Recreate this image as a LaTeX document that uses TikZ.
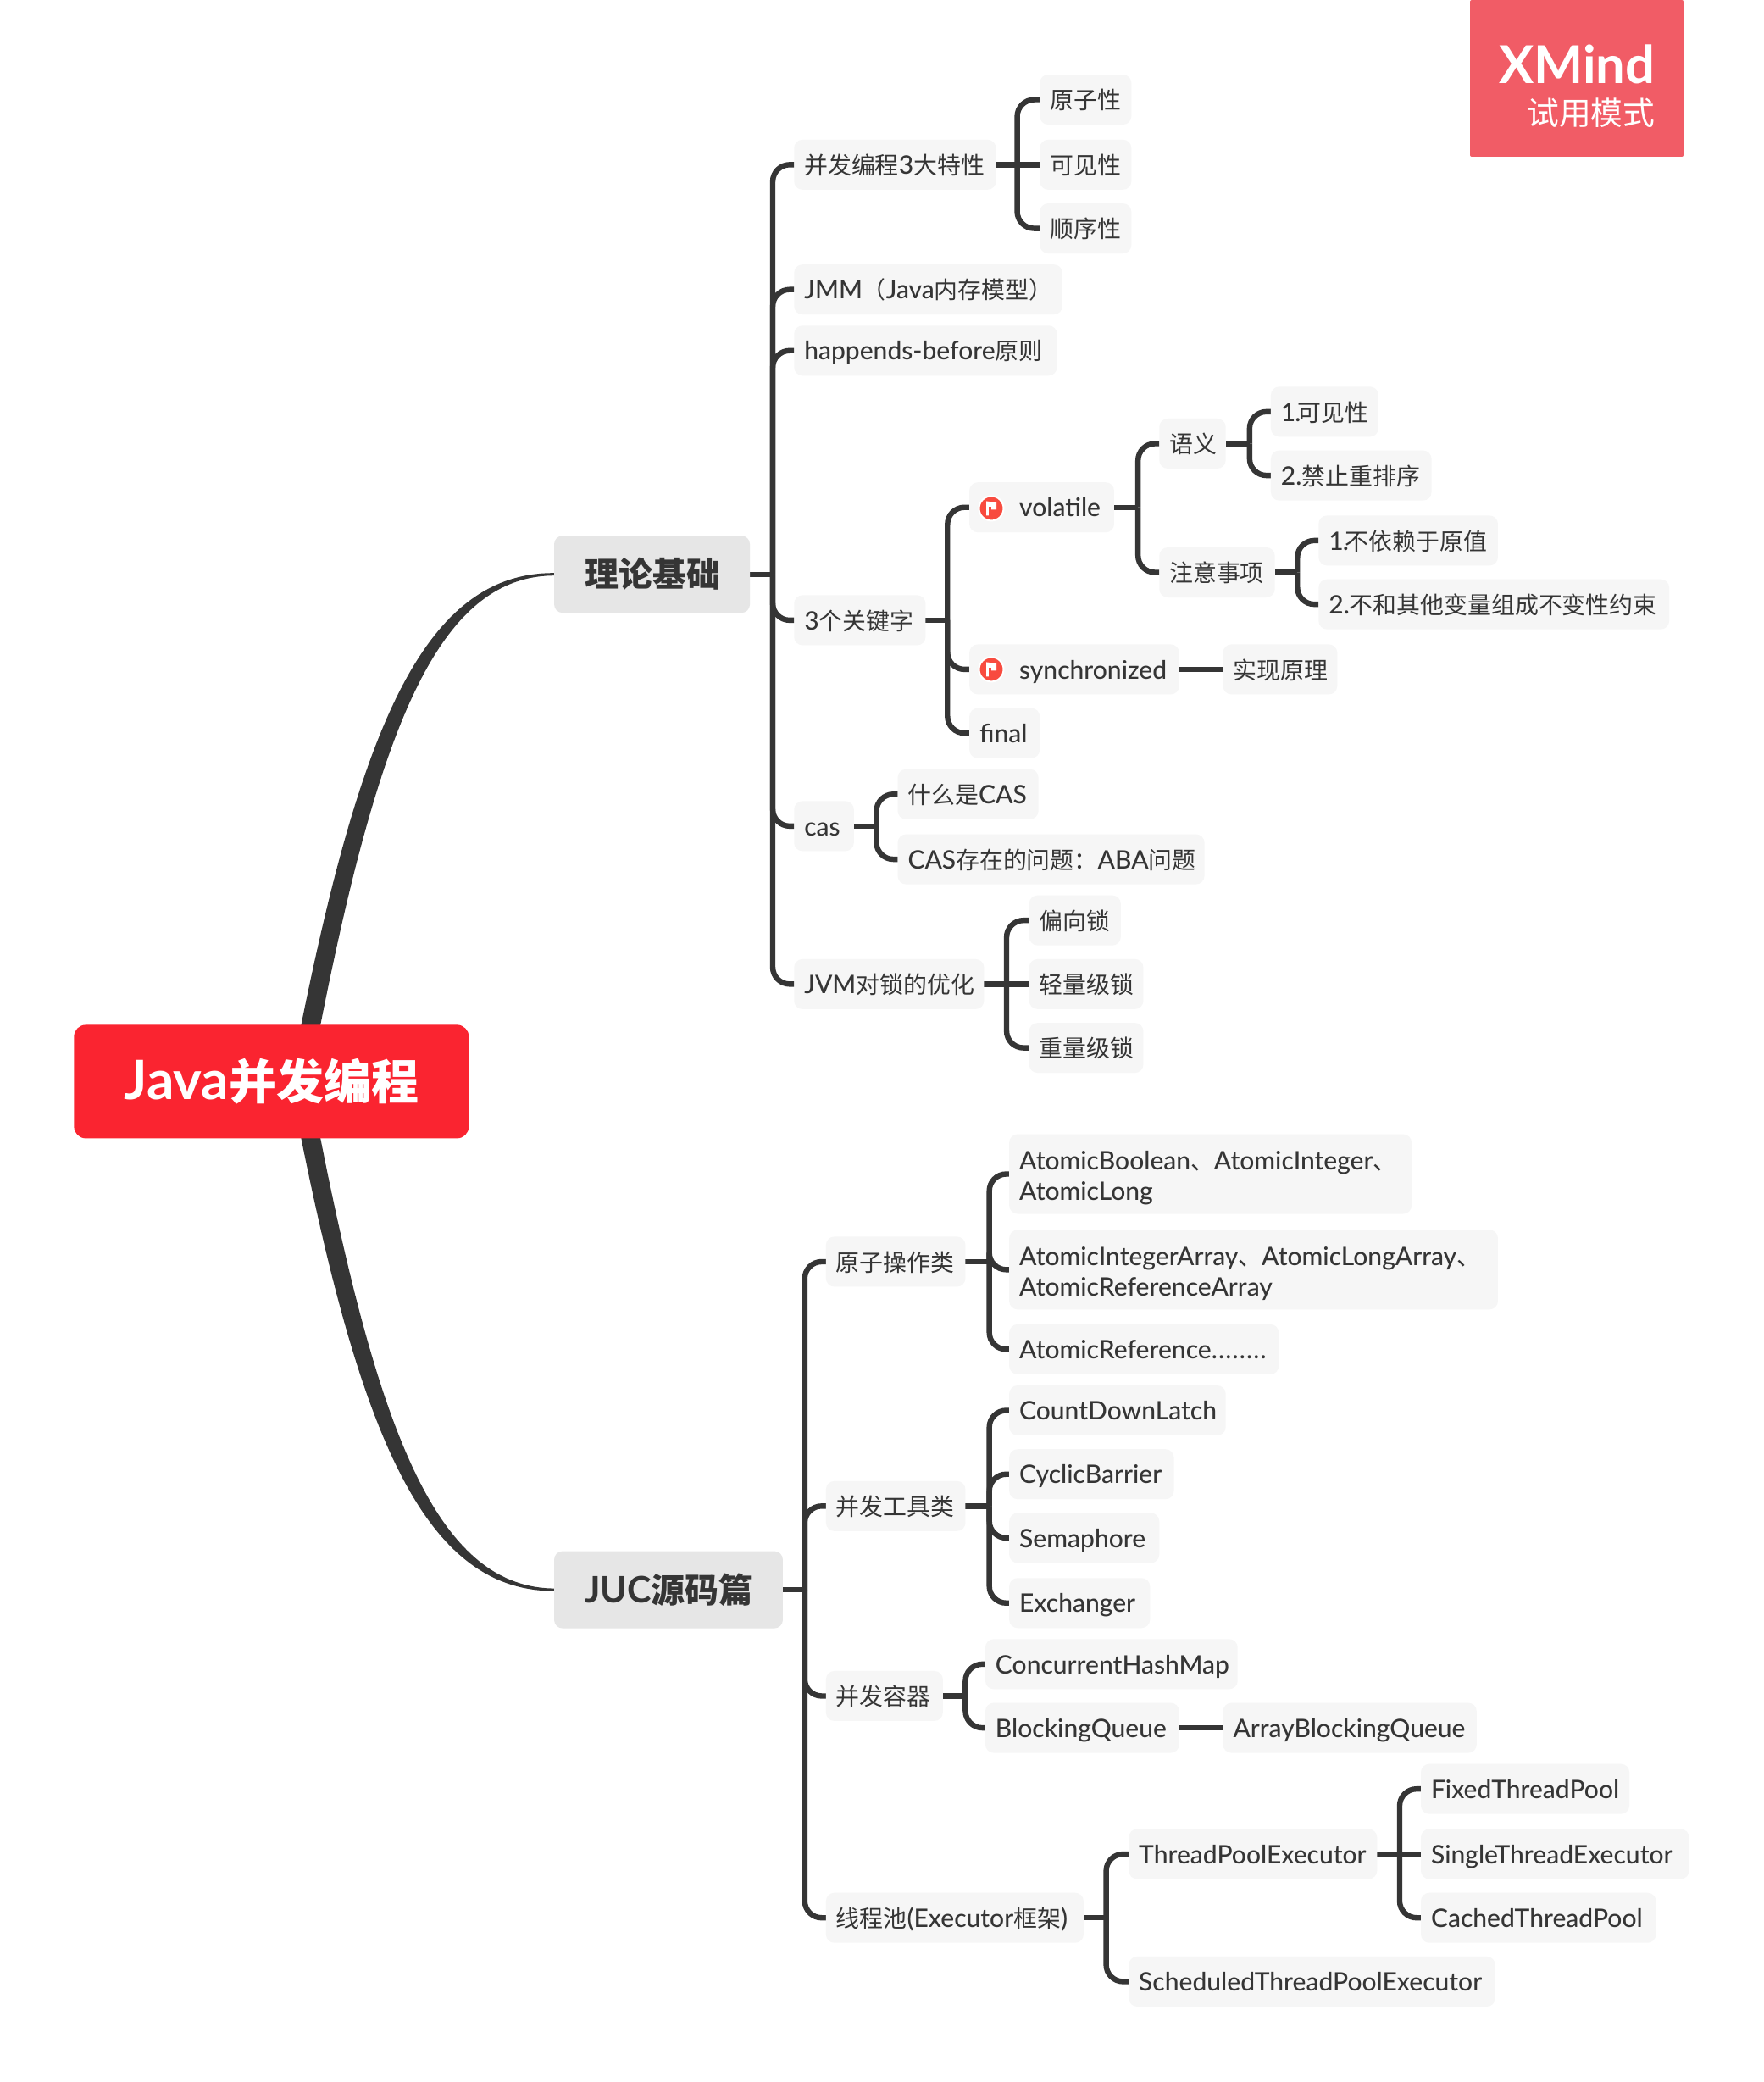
\documentclass[tikz,border=0pt]{standalone}
\usepackage{fontspec}
\setmainfont{Lato Medium}[BoldFont=Lato Bold]
\newfontfamily\cjkf[Scale=0.93]{Noto Sans CJK SC}
\newfontfamily\cjkr[Scale=0.875]{Noto Sans CJK SC}
\newcommand\cn[1]{{\cjkf #1}}
\usetikzlibrary{calc}
\pgfdeclarelayer{bg}
\pgfsetlayers{bg,main}
\definecolor{ink}{HTML}{353535}
\definecolor{pale}{HTML}{F6F6F6}
\definecolor{mid}{HTML}{E6E6E6}
\definecolor{rootred}{HTML}{FA2430}
\definecolor{wmred}{HTML}{F15C66}
\definecolor{flagred}{HTML}{F84B3F}
\tikzset{
  leaf/.style={fill=pale,rounded corners=10pt,inner sep=0pt,outer sep=0pt,minimum height=59pt,text=ink,
     font=\fontsize{30}{36}\selectfont},
  oneline/.style={text height=26pt,text depth=3.6pt},
  big/.style={leaf,fill=mid,minimum height=91pt,font=\fontsize{43}{46}\selectfont\bfseries},
  link/.style={draw=ink,line width=6.4pt},
  elbow/.style={link,rounded corners=20pt},
  flagdot/.style={circle,fill=flagred,draw=white,line width=2pt,minimum size=29pt,inner sep=0pt},
}
\newlength\nw
\newcommand\nd[6][leaf,oneline]{% style, name, left, right, cy, text
  \pgfmathsetlength\nw{(#4-#3)*1.5673}%
  \node[#1,anchor=center,minimum width=\nw] (#2) at ({(#3+#4)/2},#5) {\makebox[\nw][l]{\hspace*{12pt}#6}};}
\newcommand\fork[3]{%
  \coordinate (tk) at (#2,0);
  \begin{pgfonlayer}{bg}
  \draw[link] (#1.east) -- (#1.east -| tk);
  \foreach \kid in {#3}{\draw[elbow] (#1.east -| tk) |- (\kid.west);}
  \end{pgfonlayer}}
\newcommand\rail[2]{%
  \begin{pgfonlayer}{bg}
  \draw[link] (#1.east) -- (#2.west);
  \end{pgfonlayer}}
\begin{document}
\begin{tikzpicture}[x=1.5673pt,y=-1.5673pt]
\begin{pgfonlayer}{bg}
\path[fill=white,use as bounding box] (0,0) rectangle (1327.8,1567.66);
\end{pgfonlayer}

% watermark
\node[fill=wmred,rounded corners=2pt,minimum width=252pt,minimum height=185pt,inner sep=0pt,outer sep=0pt,anchor=north west] (wm) at (1107,0) {};
\node[anchor=base east,text=white,inner sep=0pt,font=\fontsize{61.5}{64}\selectfont\bfseries] (wm1) at (1246.5,62.6) {XMind};
\node[anchor=base east,text=white,inner sep=0pt,font=\fontsize{40.6}{42}\selectfont] (wm2) at (1246.5,93.8) {\cn{试用模式}};

% root and main topics
\node[fill=rootred,rounded corners=14pt,minimum width=466pt,minimum height=134pt,inner sep=0pt,outer sep=0pt,text=white,font=\fontsize{64}{68}\selectfont\bfseries] (root) at (204.4,814.4) {Java{\cjkr 并发编程}};
\nd[big]{theory}{417.3}{564.7}{432.4}{\hspace*{24pt}\cn{理论基础}}
\nd[big]{juc}{417.3}{589.5}{1197}{\hspace*{24pt}JUC\cn{源码篇}}

% theory branch
\nd{tri}{598}{750}{124}{\cn{并发编程}3\cn{大特性}}
\nd{tri1}{783}{852}{75}{\cn{原子性}}
\nd{tri2}{783}{852}{124}{\cn{可见性}}
\nd{tri3}{783}{852}{172}{\cn{顺序性}}
\nd{jmm}{598}{800}{218}{JMM\cn{（}Java\cn{内存模型）}}
\nd{hb}{598}{796}{264}{happends-before\cn{原则}}
\nd{kw}{598}{697}{467}{3\cn{个关键字}}
\nd{vol}{730}{839}{382}{\hspace*{47pt}volatile}
\nd{syn}{730}{888}{504}{\hspace*{47pt}synchronized}
\nd{fin}{730}{783}{552}{final}
\nd{sem}{873}{923}{334}{\cn{语义}}
\nd{note}{873}{960}{431}{\cn{注意事项}}
\nd{sem1}{957}{1038}{310}{1\kern-1pt.\kern-4pt\cn{可见性}}
\nd{sem2}{957}{1078}{358}{2.\cn{禁止重排序}}
\nd{note1}{993}{1128}{407}{1\kern-1pt.\kern-4pt\cn{不依赖于原值}}
\nd{note2}{993}{1257}{455}{2.\cn{不和其他变量组成不变性约束}}
\nd{impl}{921}{1007}{504}{\cn{实现原理}}
\nd{cas}{598}{643}{622}{cas}
\nd{cas1}{676}{782}{598}{\cn{什么是}CAS}
\nd{cas2}{676}{907}{647}{CAS\cn{存在的问题：}ABA\cn{问题}}
\nd{jvm}{598}{741}{741}{JVM\cn{对锁的优化}}
\nd{jvm1}{775}{844}{693}{\cn{偏向锁}}
\nd{jvm2}{775}{861}{741}{\cn{轻量级锁}}
\nd{jvm3}{775}{861}{789}{\cn{重量级锁}}

% flags
\node[flagdot] (fv) at (746.5,382.8) {};
\node[flagdot] (fs) at (746.5,504) {};
\foreach \f in {fv,fs}{
  \fill[white] ([shift={(-6pt,-8.5pt)}]\f.center) -- ++(0,17pt) -- ++(12pt,-1.5pt) -- ++(0,-8.5pt) -- ++(-6pt,0) -- ++(0,3.5pt) -- ++(-3.2pt,0) -- ++(0,-10.5pt) -- cycle;
}

% juc branch
\nd{atom}{622}{727}{950}{\cn{原子操作类}}
\nd[leaf,minimum height=94pt]{atom1}{760}{1063}{884}{\raisebox{-12.2pt}[0pt][0pt]{\begin{tabular}{@{}l@{}}AtomicBoolean\cn{、}AtomicInteger\cn{、}\\AtomicLong\end{tabular}}}
\nd[leaf,minimum height=94pt]{atom2}{760}{1128}{956}{\raisebox{-12.2pt}[0pt][0pt]{\begin{tabular}{@{}l@{}}AtomicIntegerArray\cn{、}AtomicLongArray\cn{、}\\AtomicReferenceArray\end{tabular}}}
\nd{atom3}{760}{963}{1016}{AtomicReference.\kern1.2pt.\kern1.2pt.\kern1.2pt.\kern1.2pt.\kern1.2pt.\kern1.2pt.\kern1.2pt.}
\nd{tool}{622}{727}{1134}{\cn{并发工具类}}
\nd{tool1}{760}{923}{1062}{CountDownLatch}
\nd{tool2}{760}{884}{1110}{CyclicBarrier}
\nd{tool3}{760}{873}{1158}{Semaphore}
\nd{tool4}{760}{866}{1207}{Exchanger}
\nd{box}{622}{710}{1277}{\cn{并发容器}}
\nd{box1}{742}{932}{1253}{ConcurrentHashMap}
\nd{box2}{742}{888}{1301}{BlockingQueue}
\nd{box3}{921}{1112}{1301}{ArrayBlockingQueue}
\nd{pool}{622}{816}{1444}{\cn{线程池}(Executor\cn{框架})}
\nd{tpe}{850}{1037}{1396}{ThreadPoolExecutor}
\nd{stpe}{850}{1126}{1492}{ScheduledThreadPoolExecutor}
\nd{fix}{1070}{1227}{1347}{FixedThreadPool}
\nd{single}{1070}{1272}{1396}{SingleThreadExecutor}
\nd{cached}{1070}{1247}{1444}{CachedThreadPool}

% connectors
\begin{pgfonlayer}{bg}
\fill[ink] ([xshift=22pt]root.center) .. controls (418pt,-878pt) and (493pt,-675.5pt) .. ([yshift=1.5pt]theory.west)
  -- ([yshift=-1.5pt]theory.west) .. controls (510pt,-680pt) and (440pt,-878pt) .. ([xshift=45pt]root.center) -- cycle;
\fill[ink] ([xshift=22pt]root.center) .. controls (418pt,-1675pt) and (493pt,-1877.5pt) .. ([yshift=-1.5pt]juc.west)
  -- ([yshift=1.5pt]juc.west) .. controls (510pt,-1873pt) and (440pt,-1675pt) .. ([xshift=45pt]root.center) -- cycle;
\end{pgfonlayer}
\fork{theory}{581.9}{tri,jmm,hb,kw,cas,jvm}
\fork{tri}{766}{tri1,tri3}
\rail{tri}{tri2}
\fork{kw}{713.5}{vol,syn,fin}
\fork{vol}{857}{sem,note}
\fork{sem}{941}{sem1,sem2}
\fork{note}{977}{note1,note2}
\rail{syn}{impl}
\fork{cas}{660}{cas1,cas2}
\fork{jvm}{758}{jvm1,jvm3}
\rail{jvm}{jvm2}
\fork{juc}{606}{atom,tool,box,pool}
\fork{atom}{745}{atom1,atom2,atom3}
\fork{tool}{745}{tool1,tool2,tool3,tool4}
\fork{box}{727}{box1,box2}
\rail{box2}{box3}
\fork{pool}{833}{tpe,stpe}
\fork{tpe}{1054}{fix,cached}
\rail{tpe}{single}
\end{tikzpicture}
\end{document}
